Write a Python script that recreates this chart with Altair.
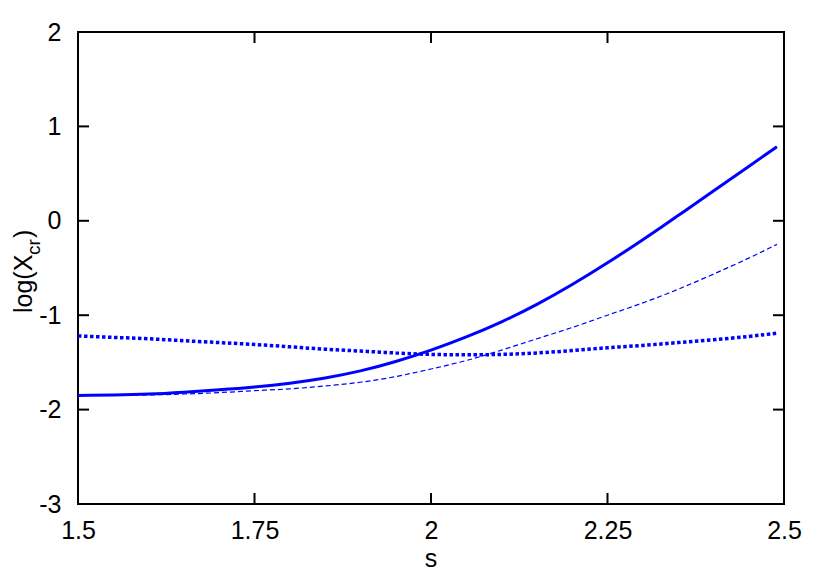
import altair as alt
import pandas as pd

# ---- data ----
s_vals = [1.50, 1.55, 1.60, 1.65, 1.70, 1.75, 1.80, 1.85, 1.90, 1.95, 2.00,
          2.05, 2.10, 2.15, 2.20, 2.25, 2.30, 2.35, 2.40, 2.45, 2.49]
solid_vals = [-1.85, -1.845, -1.835, -1.815, -1.79, -1.76, -1.72, -1.665, -1.59, -1.49, -1.37,
              -1.23, -1.07, -0.885, -0.675, -0.445, -0.20, 0.055, 0.315, 0.575, 0.785]
dotted_vals = [-1.22, -1.235, -1.25, -1.27, -1.29, -1.31, -1.335, -1.36, -1.38, -1.40, -1.415,
               -1.42, -1.415, -1.40, -1.375, -1.345, -1.32, -1.29, -1.26, -1.225, -1.19]
dashed_vals = [-1.85, -1.85, -1.845, -1.835, -1.82, -1.80, -1.78, -1.75, -1.71, -1.65, -1.57,
               -1.48, -1.37, -1.25, -1.13, -1.00, -0.87, -0.725, -0.565, -0.395, -0.25]

x_ticks = [1.5, 1.75, 2.0, 2.25, 2.5]
y_ticks = [-3, -2, -1, 0, 1, 2]
x_title = "s"
y_title_parts = ["log(X", "cr", ")"]

W, H = 706, 472
FONT = "Liberation Sans"
FS = 25
BLUE = "#0000ff"

xscale = alt.Scale(domain=[1.5, 2.5], nice=False, zero=False)
yscale = alt.Scale(domain=[-3, 2], nice=False, zero=False)

x_axis = alt.Axis(values=x_ticks, labelExpr="'' + datum.value", ticks=False, domain=False,
                  grid=False, labelPadding=14, labelFontSize=FS, labelFont=FONT,
                  labelFlush=False, labelOverlap=False, labelBound=False,
                  labelColor="black", title=None)
y_axis = alt.Axis(values=y_ticks,
                  labelExpr="datum.value < 0 ? '-' + abs(datum.value) : '' + datum.value",
                  ticks=False, domain=False, grid=False, labelPadding=17, labelFontSize=FS,
                  labelFlush=False, labelOverlap=False, labelBound=False,
                  labelFont=FONT, labelColor="black", title=None)

def X(field):
    return alt.X(field, scale=xscale, axis=x_axis)

def Y(field):
    return alt.Y(field, scale=yscale, axis=y_axis)

def series_df(vals):
    return pd.DataFrame({"s": s_vals, "v": vals})

solid = alt.Chart(series_df(solid_vals)).mark_line(
    color=BLUE, strokeWidth=3, interpolate="natural").encode(x=X("s:Q"), y=Y("v:Q"))
dashed = alt.Chart(series_df(dashed_vals)).mark_line(
    color=BLUE, strokeWidth=1.2, strokeDash=[5, 3], interpolate="natural").encode(
    x=X("s:Q"), y=Y("v:Q"))
dotted = alt.Chart(series_df(dotted_vals)).mark_line(
    color=BLUE, strokeWidth=3.5, strokeDash=[3.5, 2.5], interpolate="natural").encode(
    x=X("s:Q"), y=Y("v:Q"))

xt = pd.DataFrame({"s": x_ticks[1:-1]})
yt = pd.DataFrame({"v": y_ticks[1:-1]})
TL = 11
tick_style = dict(color="black", strokeWidth=2)
xb = alt.Chart(xt).mark_rule(**tick_style).encode(
    x=X("s:Q"), y=alt.value(H), y2=alt.value(H - TL))
xtop = alt.Chart(xt).mark_rule(**tick_style).encode(
    x=X("s:Q"), y=alt.value(0), y2=alt.value(TL))
yl = alt.Chart(yt).mark_rule(**tick_style).encode(
    y=Y("v:Q"), x=alt.value(0), x2=alt.value(TL))
yr = alt.Chart(yt).mark_rule(**tick_style).encode(
    y=Y("v:Q"), x=alt.value(W - TL), x2=alt.value(W))

xlab = alt.Chart(pd.DataFrame({"t": [x_title]})).mark_text(
    font=FONT, fontSize=FS, color="black", align="center", baseline="alphabetic").encode(
    text="t:N", x=alt.value(W / 2), y=alt.value(535))

yl1 = alt.Chart(pd.DataFrame({"t": [y_title_parts[0]]})).mark_text(
    font=FONT, fontSize=FS, color="black", align="left", baseline="alphabetic", angle=270).encode(
    text="t:N", x=alt.value(-46), y=alt.value(281))
yl2 = alt.Chart(pd.DataFrame({"t": [y_title_parts[1]]})).mark_text(
    font=FONT, fontSize=19, color="black", align="left", baseline="alphabetic", angle=270).encode(
    text="t:N", x=alt.value(-38), y=alt.value(223))
yl3 = alt.Chart(pd.DataFrame({"t": [y_title_parts[2]]})).mark_text(
    font=FONT, fontSize=FS, color="black", align="left", baseline="alphabetic", angle=270).encode(
    text="t:N", x=alt.value(-46), y=alt.value(206))

chart = alt.layer(solid, dashed, dotted, xb, xtop, yl, yr, xlab, yl1, yl2, yl3).properties(
    width=W, height=H,
    background="white",
    autosize=alt.AutoSizeParams(type="none"),
    padding={"left": 70, "top": 24, "right": 38, "bottom": 69},
).configure_view(stroke="black", strokeWidth=2)

chart.save("out.html", embed_options={"renderer": "svg", "actions": False})
